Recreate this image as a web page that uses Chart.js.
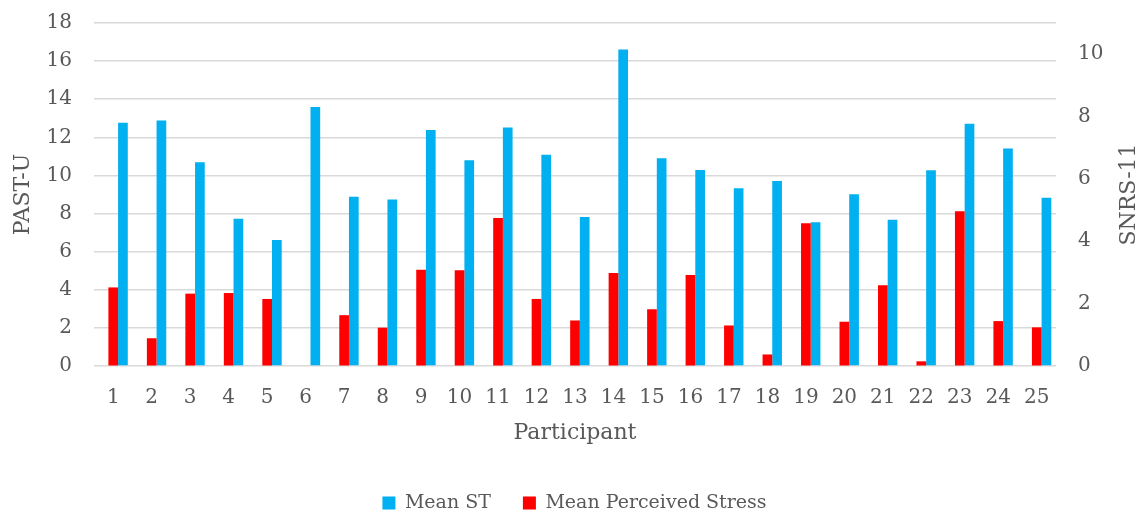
<!DOCTYPE html>
<html>
<head>
<meta charset="utf-8">
<script src="https://cdn.jsdelivr.net/npm/chart.js@4.4.0/dist/chart.umd.min.js"></script>
<style>
  body { margin: 0; background: #fff; }
</style>
</head>
<body>
<canvas id="chart" width="1145" height="517"></canvas>
<script>
const participants = ['1','2','3','4','5','6','7','8','9','10','11','12','13','14','15','16','17','18','19','20','21','22','23','24','25'];

// PAST-U, left axis
const meanST = [12.76, 12.88, 10.69, 7.73, 6.61, 13.59, 8.88, 8.74, 12.39, 10.8, 12.52, 11.09, 7.82,
                16.61, 10.9, 10.29, 9.33, 9.71, 7.54, 9.01, 7.67, 10.27, 12.71, 11.41, 8.83];

// SNRS-11, right axis
const meanStress = [2.52, 0.89, 2.32, 2.34, 2.15, 0, 1.63, 1.23, 3.09, 3.07, 4.75, 2.15, 1.46,
                    2.98, 1.82, 2.92, 1.30, 0.37, 4.58, 1.42, 2.59, 0.15, 4.96, 1.44, 1.24];

const leftTicks = [0, 2, 4, 6, 8, 10, 12, 14, 16, 18];
const rightTicks = [0, 2, 4, 6, 8, 10];

// empty slot so the red bar sits on the category centre, blue right of it
const spacer = participants.map(() => null);

const grey = '#595959';
const fontFamily = '"DejaVu Serif", serif';

// excel puts the secondary title bottom-to-top, chart.js does it the other way
const rightTitle = {
  id: 'rightTitle',
  afterDraw(chart) {
    const s = chart.scales.y1;
    const ctx = chart.ctx;
    ctx.save();
    ctx.translate(s.right - 1 - 13.2, (chart.chartArea.top + chart.chartArea.bottom) / 2);
    ctx.rotate(-Math.PI / 2);
    ctx.font = '22px ' + fontFamily;
    ctx.fillStyle = grey;
    ctx.textAlign = 'center';
    ctx.textBaseline = 'middle';
    ctx.fillText('SNRS-11', 0, 0);
    ctx.restore();
  }
};

// gap between labels and plot done with invisible tick marks,
// ticks.padding pushes the plot area down otherwise
new Chart(document.getElementById('chart'), {
  type: 'bar',
  data: {
    labels: participants,
    datasets: [
      { label: 'Mean ST', data: meanST, yAxisID: 'y', backgroundColor: '#00b0f0', order: 2 },
      { label: 'Mean Perceived Stress', data: meanStress, yAxisID: 'y1', backgroundColor: '#ff0000', order: 1 },
      { label: '', data: spacer, yAxisID: 'y', order: 0 }
    ]
  },
  options: {
    responsive: false,
    animation: false,
    categoryPercentage: 0.756,
    barPercentage: 1,
    layout: { padding: { top: 23, left: 6, right: 2, bottom: 0 } },
    plugins: {
      tooltip: { enabled: false },
      legend: {
        position: 'bottom',
        maxHeight: 55.4,
        labels: {
          filter: item => item.text !== '',
          sort: (a, b) => a.datasetIndex - b.datasetIndex,
          boxWidth: 13,
          boxHeight: 13,
          padding: 32,
          color: grey,
          font: { family: fontFamily, size: 19 }
        }
      }
    },
    scales: {
      x: {
        afterFit: axis => { axis.height = 95.6; },
        grid: { display: false, drawTicks: false },
        border: { display: false },
        ticks: { color: grey, padding: 20, font: { family: fontFamily, size: 20 } },
        title: { display: true, text: 'Participant', color: grey, padding: { top: 0, bottom: 15.4 },
                 font: { family: fontFamily, size: 22 } }
      },
      y: {
        position: 'left',
        min: 0,
        max: leftTicks[leftTicks.length - 1],
        afterBuildTicks: axis => { axis.ticks = leftTicks.map(v => ({ value: v })); },
        afterFit: axis => { axis.width = 88; },
        grid: { color: '#d9d9d9', lineWidth: 1.5, drawTicks: true, tickLength: 22, tickColor: 'rgba(0,0,0,0)' },
        border: { display: false },
        ticks: { color: grey, padding: 0, font: { family: fontFamily, size: 20 } },
        title: { display: true, text: 'PAST-U', color: grey, padding: { top: 4, bottom: 0 },
                 font: { family: fontFamily, size: 22 } }
      },
      y1: {
        position: 'right',
        min: 0,
        max: 11,
        afterBuildTicks: axis => { axis.ticks = rightTicks.map(v => ({ value: v })); },
        afterFit: axis => { axis.width = 87; },
        grid: { color: 'rgba(0,0,0,0)', drawOnChartArea: false, drawTicks: true, tickLength: 22, tickColor: 'rgba(0,0,0,0)' },
        border: { display: false },
        ticks: { color: grey, padding: 0, font: { family: fontFamily, size: 20 } },
        title: { display: true, text: 'SNRS-11', color: 'rgba(0,0,0,0)', padding: { top: 1, bottom: 0 },
                 font: { family: fontFamily, size: 22 } }
      }
    }
  },
  plugins: [rightTitle]
});
</script>
</body>
</html>
